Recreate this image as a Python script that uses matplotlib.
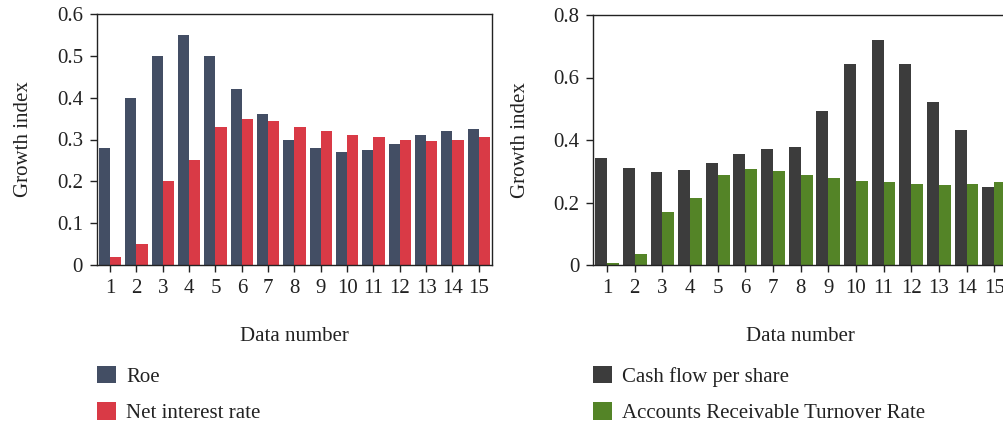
import matplotlib
matplotlib.use("Agg")
import matplotlib.pyplot as plt
import numpy as np

plt.rcParams['font.family'] = ['Liberation Serif', 'DejaVu Serif']
plt.rcParams['font.size'] = 15

data_numbers = list(range(1, 16))

roe = [0.28, 0.40, 0.50, 0.55, 0.50, 0.42, 0.36, 0.30, 0.28, 0.27, 0.275, 0.289, 0.31, 0.32, 0.325]
net_interest_rate = [0.02, 0.05, 0.20, 0.25, 0.33, 0.349, 0.344, 0.33, 0.32, 0.31, 0.306, 0.30, 0.296, 0.30, 0.306]

cash_flow_per_share = [0.343, 0.311, 0.299, 0.305, 0.327, 0.356, 0.372, 0.379, 0.494, 0.644,
                       0.721, 0.644, 0.523, 0.433, 0.251]
ar_turnover_rate = [0.007, 0.036, 0.171, 0.215, 0.289, 0.308, 0.302, 0.289, 0.279, 0.270,
                    0.267, 0.260, 0.257, 0.260, 0.267]

left_labels = ["Roe", "Net interest rate"]
right_labels = ["Cash flow per share", "Accounts Receivable Turnover Rate"]
left_colors = ["#434e64", "#d93a46"]
right_colors = ["#3c3c3c", "#548427"]

W, H = 1004, 425
fig = plt.figure(figsize=(W / 100, H / 100), dpi=100)

def px_axes(x0, x1, ytop, ybot):
    return [x0 / W, (H - ybot) / H, (x1 - x0) / W, (ybot - ytop) / H]

ax1 = fig.add_axes(px_axes(97, 492, 14, 265))
ax2 = fig.add_axes(px_axes(593.3, 1008, 15, 265))

x = np.array(data_numbers)

def style(ax, ymax, yticks, yticklabels):
    ax.set_xlim(0.5, 15.5)
    ax.set_ylim(0, ymax)
    ax.set_xticks(x)
    ax.set_xticklabels([str(v) for v in data_numbers])
    ax.set_yticks(yticks)
    ax.set_yticklabels(yticklabels)
    ax.tick_params(direction='out', length=5, width=1, colors='#222222', labelcolor='#222222', pad=5)
    for s in ax.spines.values():
        s.set_linewidth(1.0)
        s.set_color('#222222')
    ax.set_ylabel("Growth index", labelpad=17, color='#222222')
    ax.set_xlabel("Data number", labelpad=21, color='#222222')

w1 = 0.42
b1 = ax1.bar(x, roe, width=-w1, align='edge', color=left_colors[0], label=left_labels[0])
b2 = ax1.bar(x, net_interest_rate, width=w1, align='edge', color=left_colors[1], label=left_labels[1])
style(ax1, 0.6, [0, 0.1, 0.2, 0.3, 0.4, 0.5, 0.6], ["0", "0.1", "0.2", "0.3", "0.4", "0.5", "0.6"])

w2 = 0.43
b3 = ax2.bar(x, cash_flow_per_share, width=-w2, align='edge', color=right_colors[0], label=right_labels[0])
b4 = ax2.bar(x, ar_turnover_rate, width=w2, align='edge', color=right_colors[1], label=right_labels[1])
style(ax2, 0.8, [0, 0.2, 0.4, 0.6, 0.8], ["0", "0.2", "0.4", "0.6", "0.8"])

for handles, labels, xpos in [([b1, b2], left_labels, 97), ([b3, b4], right_labels, 593)]:
    leg = fig.legend(handles, labels, loc='upper left', bbox_to_anchor=(xpos / W, (H - 366) / H),
                     frameon=False, handlelength=0.9, handleheight=0.9, handletextpad=0.5,
                     labelspacing=0.75, borderaxespad=0, borderpad=0)
    for t in leg.get_texts():
        t.set_color('#222222')

fig.savefig("out.png", dpi=100)
